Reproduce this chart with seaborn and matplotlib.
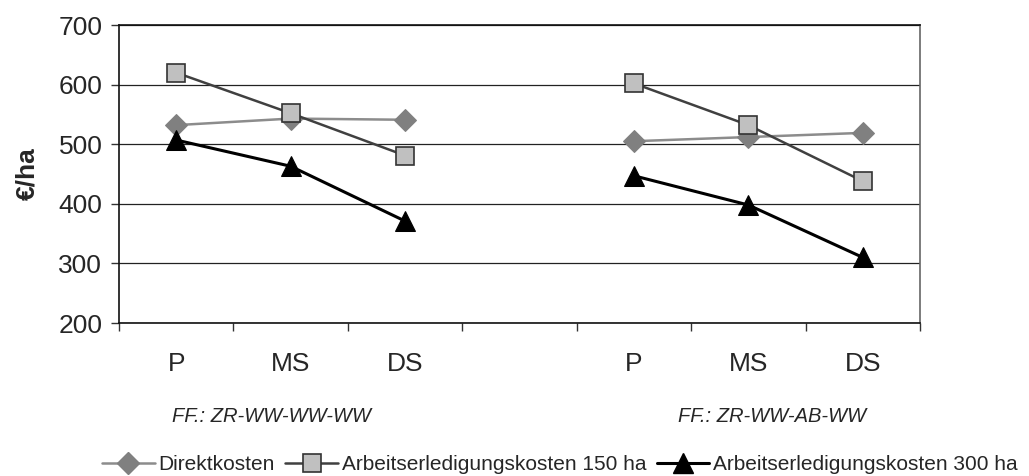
import matplotlib
matplotlib.use("Agg")
import matplotlib.pyplot as plt
import matplotlib.transforms as mtransforms
import seaborn as sns
import pandas as pd

categories = ["P", "MS", "DS", "", "P", "MS", "DS"]
groups = ["FF.: ZR-WW-WW-WW", "FF.: ZR-WW-AB-WW"]
group_members = [[0, 1, 2], [4, 5, 6]]

series_names = ["Direktkosten", "Arbeitserledigungskosten 150 ha", "Arbeitserledigungskosten 300 ha"]
direktkosten = [[532, 543, 541], [505, 512, 519]]
ak_150 = [[620, 552, 481], [602, 532, 438]]
ak_300 = [[507, 463, 371], [447, 398, 310]]
series_values = [direktkosten, ak_150, ak_300]

yticks = [200, 300, 400, 500, 600, 700]

styles = [
    dict(color="#8c8c8c", marker="D", markersize=11.5, markerfacecolor="#808080",
         markeredgecolor="#808080", linewidth=1.8),
    dict(color="#404040", marker="s", markersize=13, markerfacecolor="#c0c0c0",
         markeredgecolor="#333333", markeredgewidth=1.2, linewidth=1.8),
    dict(color="#000000", marker="^", markersize=14, markerfacecolor="#000000",
         markeredgecolor="#000000", linewidth=2.2),
]

rows = []
for name, vals in zip(series_names, series_values):
    for g, (members, gv) in enumerate(zip(group_members, vals)):
        for idx, v in zip(members, gv):
            rows.append(dict(series=name, group=g, pos=idx, value=v))
df = pd.DataFrame(rows)

sns.set_theme(style="white")
plt.rcParams["font.family"] = ["Liberation Sans", "DejaVu Sans"]

fig = plt.figure(figsize=(10.29, 4.76), dpi=100)
ax = fig.add_axes([119 / 1029, 1 - 323 / 476, 801 / 1029, 298 / 476])

handles = []
for name, st in zip(series_names, styles):
    sub = df[df.series == name]
    for g in sorted(sub.group.unique()):
        d = sub[sub.group == g]
        sns.lineplot(data=d, x="pos", y="value", ax=ax, estimator=None,
                     legend=False, zorder=3, **st)
    h, = ax.plot([], [], **st)
    handles.append(h)

ax.set_xlim(-0.5, len(categories) - 0.5)
ax.set_ylim(200, 700)
ax.set_yticks(yticks)
ax.set_yticklabels([str(t) for t in yticks], fontsize=19)
ax.yaxis.grid(True, color="#222222", linewidth=0.9)
ax.set_axisbelow(True)

bounds = [i - 0.5 for i in range(len(categories) + 1)]
ax.set_xticks(bounds)
ax.set_xticklabels([""] * len(bounds))
ax.set_xticks([i for i, c in enumerate(categories) if c], minor=True)
ax.set_xticklabels([c for c in categories if c], minor=True, fontsize=19)
ax.tick_params(axis="x", which="major", direction="out", length=6, width=1, color="#333333", bottom=True)
ax.tick_params(axis="x", which="minor", length=0, pad=21, bottom=True)
ax.tick_params(axis="y", direction="out", length=6, width=1, color="#333333", left=True, pad=6)

ax.set_xlabel("")
ax.set_ylabel("€/ha", fontsize=19, fontweight="bold", labelpad=14)

for sp in ["left", "bottom", "top"]:
    ax.spines[sp].set_color("#111111")
    ax.spines[sp].set_linewidth(1.2)
ax.spines["right"].set_color("#666666")
ax.spines["right"].set_linewidth(1.2)

trans = mtransforms.blended_transform_factory(ax.transData, fig.transFigure)
group_label_x = [0.83, 5.21]
for lab, gx in zip(groups, group_label_x):
    ax.text(gx, 1 - 416 / 476, lab, transform=trans, ha="center", va="center",
            fontsize=14.5, style="italic")

fig.legend(handles, series_names, loc="center", bbox_to_anchor=(560 / 1029, 1 - 465 / 476),
           ncol=3, frameon=False, fontsize=15, handlelength=2.5, handletextpad=0.2,
           columnspacing=0.5, borderaxespad=0)

fig.savefig("out.png", dpi=100)
